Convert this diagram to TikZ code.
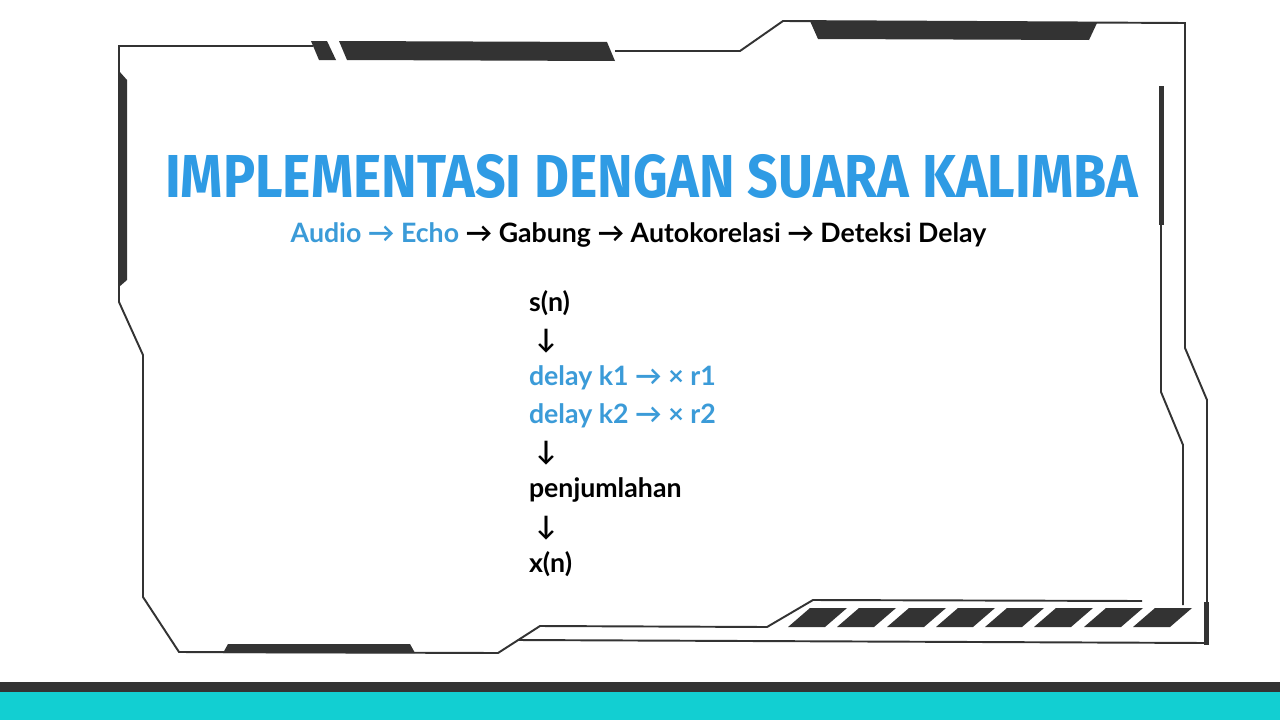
\documentclass[tikz,border=0pt]{standalone}
\usepackage{fontspec}
\usepackage{xcolor}
\usepackage{graphicx}
\usepackage{tikz}
\usetikzlibrary{positioning}
\setmainfont{Lato}
\newfontfamily\titlefont{Fira Sans}
\newfontfamily\bodyfont{Lato}
\definecolor{titleblue}{HTML}{2F9BE4}
\definecolor{textblue}{HTML}{3B9BD8}
\definecolor{framegray}{HTML}{333333}
\definecolor{bandteal}{HTML}{12CFD2}
\tikzset{
  frame_line/.style={draw=framegray, line width=1.1pt},
  frame_bar/.style={fill=framegray},
  flow_line/.style={text width=4cm, align=flush left, text height=12pt, text depth=4pt, inner sep=0pt, font=\bodyfont\bfseries\fontsize{15.2}{18}\selectfont}
}

\begin{document}
\begin{tikzpicture}[x=0.02cm, y=-0.02cm, node distance=0.748cm, auto]
            \useasboundingbox (0,0) rectangle (1280,720);
            \fill[white] (0,0) rectangle (1280,720);
            % bottom band
            \fill[framegray] (0,682) rectangle (1280,692);
            \fill[bandteal] (0,692) rectangle (1280,720);
            % frame lines
            \draw[frame_line] (313,46) -- (119,46) -- (119,302) -- (143,355) -- (143,597) -- (179,652) -- (498,653) -- (540,626) -- (767,627) -- (813,600) -- (1142,601);
            \draw[frame_line] (615,51) -- (740,51) -- (783,21) -- (1185,23) -- (1185,348) -- (1207,400) -- (1207,643) -- (518,640);
            \draw[frame_line] (1161,225) -- (1161,392) -- (1183,445) -- (1183,605);
            % frame bars
            \fill[frame_bar] (119,71) -- (127,80) -- (127,280) -- (119,287) -- cycle;
            \fill[frame_bar] (311,41) -- (327,41) -- (336,60) -- (319,60) -- cycle;
            \fill[frame_bar] (339,41) -- (607,42) -- (615,61) -- (347,60) -- cycle;
            \fill[frame_bar] (810,21) -- (1097,23) -- (1089,40) -- (818,39) -- cycle;
            \fill[frame_bar] (1159,86) rectangle (1164,225);
            \fill[frame_bar] (1204,602) rectangle (1209,645);
            \fill[frame_bar] (223,653) -- (228,644) -- (410,644) -- (415,653) -- cycle;
            % stripes
            \fill[frame_bar] (788,627) -- (810,608) -- (847,608) -- (825,627) -- cycle;
            \fill[frame_bar] (837,627) -- (859,608) -- (896,608) -- (874,627) -- cycle;
            \fill[frame_bar] (887,627) -- (909,608) -- (946,608) -- (924,627) -- cycle;
            \fill[frame_bar] (936,627) -- (958,608) -- (995,608) -- (973,627) -- cycle;
            \fill[frame_bar] (985,627) -- (1007,608) -- (1044,608) -- (1022,627) -- cycle;
            \fill[frame_bar] (1034,627) -- (1056,608) -- (1093,608) -- (1071,627) -- cycle;
            \fill[frame_bar] (1084,627) -- (1106,608) -- (1143,608) -- (1121,627) -- cycle;
            \fill[frame_bar] (1133,627) -- (1155,608) -- (1192,608) -- (1170,627) -- cycle;
            % texts
            \node[text=titleblue, inner sep=0pt] (title) at (651.5,176.5) {\resizebox{553.7pt}{24.5pt}{\titlefont\bfseries IMPLEMENTASI DENGAN SUARA KALIMBA}};
            \node[anchor=base, inner sep=0pt, font=\bodyfont\bfseries\fontsize{15.2}{18}\selectfont] (pipeline) at (638.5,242) {\textcolor{textblue}{Audio → Echo} → Gabung → Autokorelasi → Deteksi Delay};
            \node[flow_line] (input_signal) at (629,304) {s(n)};
            \node[flow_line] (arrow_one) [below of=input_signal] {\hspace{4pt}↓};
            \node[flow_line, text=textblue] (delay_one) [below of=arrow_one] {delay k1 → × r1};
            \node[flow_line, text=textblue] (delay_two) [below of=delay_one] {delay k2 → × r2};
            \node[flow_line] (arrow_two) [below of=delay_two] {\hspace{4pt}↓};
            \node[flow_line] (summation) [below of=arrow_two] {penjumlahan};
            \node[flow_line] (arrow_three) [below of=summation] {\hspace{4pt}↓};
            \node[flow_line] (output_signal) [below of=arrow_three] {x(n)};
        \end{tikzpicture}
\end{document}
